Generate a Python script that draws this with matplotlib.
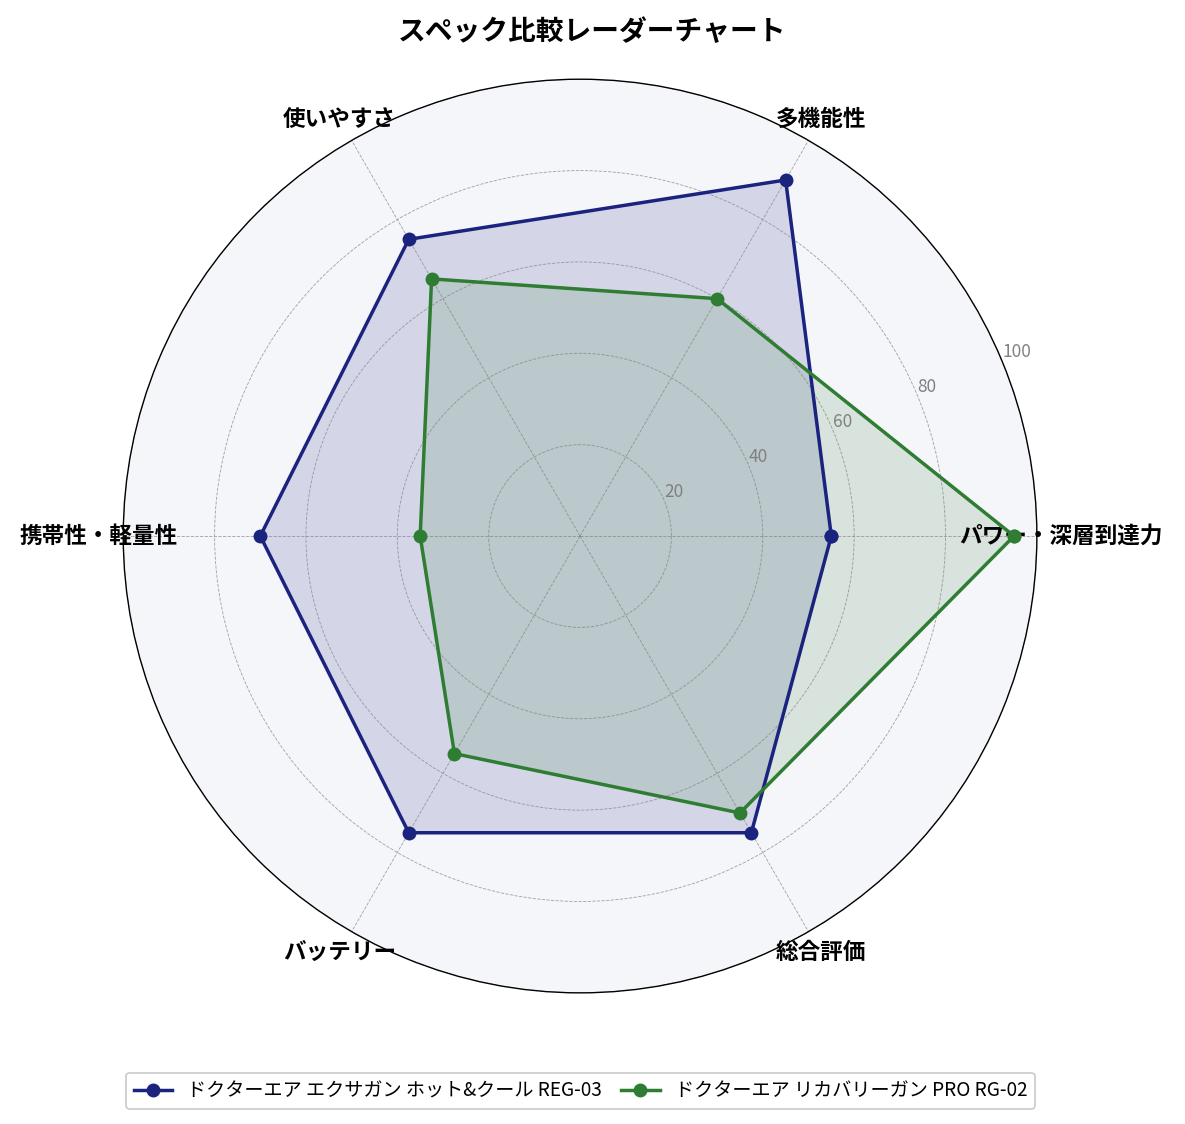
import numpy as np
import matplotlib.pyplot as plt

plt.rcParams['font.family'] = ['Noto Sans CJK JP', 'DejaVu Sans']

categories = ['パワー・深層到達力', '多機能性', '使いやすさ', '携帯性・軽量性', 'バッテリー', '総合評価']
series_names = ['ドクターエア エクサガン ホット&クール REG-03', 'ドクターエア リカバリーガン PRO RG-02']
reg03 = [55, 90, 75, 70, 75, 75]
rg02 = [95, 60, 65, 35, 55, 70]
colors = ['#1a237e', '#2e7d32']

n = len(categories)
angles = np.linspace(0, 2 * np.pi, n, endpoint=False).tolist()
angles_closed = angles + angles[:1]

fig = plt.figure(figsize=(9.48, 8.992), dpi=125)
ax = fig.add_axes([0.104, 0.1166, 0.771, 0.813], polar=True)
ax.set_facecolor('#f5f6fa')

for vals, name, c in zip([reg03, rg02], series_names, colors):
    v = vals + vals[:1]
    ax.plot(angles_closed, v, color=c, linewidth=2, marker='o', markersize=7, label=name)
    ax.fill(angles_closed, v, color=c, alpha=0.15)

ax.set_ylim(0, 100)
ax.set_yticks([20, 40, 60, 80, 100])
ax.set_yticklabels(['20', '40', '60', '80', '100'], color='gray', fontsize=10)
ax.set_rlabel_position(22.5)
ax.set_xticks(angles)
ax.set_xticklabels(categories, fontsize=13, fontweight='bold')
ax.grid(True, color='gray', linestyle='--', linewidth=0.5, alpha=0.7)
ax.spines['polar'].set_color('black')

fig.suptitle('スペック比較レーダーチャート', fontsize=16, fontweight='bold', y=0.984)
fig.legend(loc='lower center', bbox_to_anchor=(0.49, 0.005), ncol=2, fontsize=11,
           framealpha=1, columnspacing=1.0)

plt.savefig('out.png', dpi=125)
